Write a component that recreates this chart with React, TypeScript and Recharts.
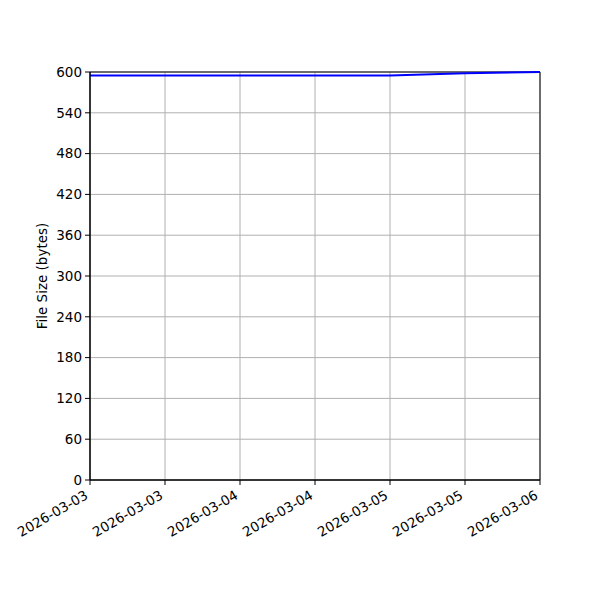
import React from 'react';
import { LineChart, Line, XAxis, YAxis, CartesianGrid, ReferenceArea } from 'recharts';

const hours = [0, 12, 24, 36, 48, 60, 72];
const sizes = [595, 595, 595, 595, 595, 598, 600];
const xTicks = [0, 12, 24, 36, 48, 60, 72];
const xTickLabels = ['2026-03-03', '2026-03-03', '2026-03-04', '2026-03-04', '2026-03-05', '2026-03-05', '2026-03-06'];
const yTicks = [0, 60, 120, 180, 240, 300, 360, 420, 480, 540, 600];

const data = hours.map((h, i) => ({ h, size: sizes[i] }));

const FONT = 'DejaVu Sans, sans-serif';
const FS = 13.5;

const XTick = (props: any) => {
  const { x, y, payload } = props;
  const idx = xTicks.indexOf(payload.value);
  const label = idx >= 0 ? xTickLabels[idx] : '';
  const ax = x - 1;
  const ay = y + 11;
  return (
    <text
      x={ax}
      y={ay}
      textAnchor="end"
      fontSize={FS}
      fontFamily={FONT}
      fill="#000"
      transform={`rotate(-30, ${ax}, ${ay})`}
    >
      {label}
    </text>
  );
};

const YLabel = (props: any) => {
  const vb = props.viewBox || {};
  const cy = (vb.y ?? 72) + (vb.height ?? 408) / 2;
  const cx = 42;
  return (
    <text
      x={cx}
      y={cy}
      textAnchor="middle"
      dominantBaseline="central"
      fontSize={FS}
      fontFamily={FONT}
      fill="#000"
      transform={`rotate(-90, ${cx}, ${cy})`}
    >
      File Size (bytes)
    </text>
  );
};

export default function App() {
  return (
    <div style={{ position: 'absolute', left: 0, top: 0, width: 600, height: 600, background: '#fff' }}>
      <LineChart
        width={600}
        height={600}
        data={data}
        margin={{ top: 72, right: 60, bottom: 80, left: 30 }}
      >
        <CartesianGrid stroke="#b0b0b0" strokeWidth={1} />
        <XAxis
          dataKey="h"
          type="number"
          domain={[0, 72]}
          ticks={xTicks}
          interval={0}
          height={40}
          tick={<XTick />}
          tickSize={5}
          axisLine={{ stroke: '#000', strokeWidth: 1 }}
          tickLine={{ stroke: '#000', strokeWidth: 1 }}
        />
        <YAxis
          type="number"
          domain={[0, 600]}
          ticks={yTicks}
          interval={0}
          width={60}
          tickSize={5}
          tickMargin={3}
          tick={{ fill: '#000', fontSize: FS, fontFamily: FONT }}
          axisLine={{ stroke: '#000', strokeWidth: 1 }}
          tickLine={{ stroke: '#000', strokeWidth: 1 }}
          label={<YLabel />}
        />
        <ReferenceArea x1={0} x2={72} y1={0} y2={600} fill="none" stroke="#000" strokeWidth={1} ifOverflow="visible" />
        <Line
          type="linear"
          dataKey="size"
          stroke="#0000ff"
          strokeWidth={2}
          dot={false}
          isAnimationActive={false}
        />
      </LineChart>
    </div>
  );
}
